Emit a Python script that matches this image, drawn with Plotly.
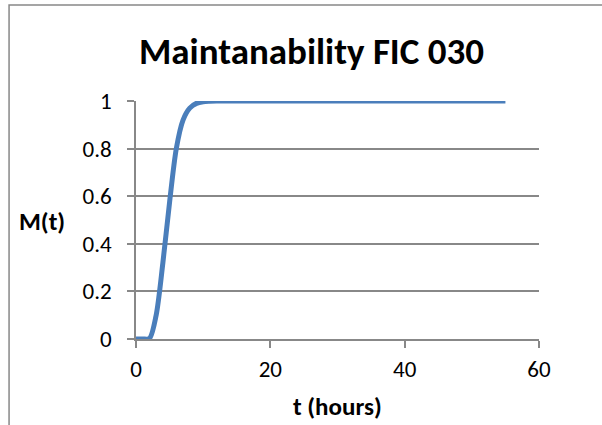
import plotly.graph_objects as go

t_hours = [0, 1, 2, 3, 4, 5, 6, 7, 8, 9, 10, 11, 12, 13, 14, 15, 16, 17, 18, 19,
           20, 21, 22, 23, 24, 25, 26, 27, 28, 29, 30, 31, 32, 33, 34, 35, 36, 37, 38, 39,
           40, 41, 42, 43, 44, 45, 46, 47, 48, 49, 50, 51, 52, 53, 54, 55]
m_values = [0.0, 0.0, 0.002, 0.10, 0.32, 0.575, 0.80, 0.92, 0.97, 0.99, 0.997, 0.999, 1.0, 1.0, 1.0, 1.0, 1.0, 1.0, 1.0, 1.0,
            1.0, 1.0, 1.0, 1.0, 1.0, 1.0, 1.0, 1.0, 1.0, 1.0, 1.0, 1.0, 1.0, 1.0, 1.0, 1.0, 1.0, 1.0, 1.0, 1.0,
            1.0, 1.0, 1.0, 1.0, 1.0, 1.0, 1.0, 1.0, 1.0, 1.0, 1.0, 1.0, 1.0, 1.0, 1.0, 1.0]
x_ticks = [0, 20, 40, 60]
y_ticks = [0, 0.2, 0.4, 0.6, 0.8, 1]
y_tick_labels = ["0", "0.2", "0.4", "0.6", "0.8", "1"]

FONT = "Carlito, Calibri, Lato, sans-serif"
GRAY = "#888888"

fig = go.Figure()
fig.add_trace(go.Scatter(
    x=t_hours, y=m_values, mode="lines",
    line=dict(color="#4a7ebb", width=5, shape="spline", smoothing=0.8),
    showlegend=False, cliponaxis=False,
))

fig.update_layout(
    width=602, height=425,
    margin=dict(l=136, r=63, t=101, b=86),
    paper_bgcolor="white", plot_bgcolor="white",
    font=dict(family=FONT, color="black"),
    xaxis=dict(range=[0, 60], tickvals=x_ticks, showgrid=False,
               showline=True, linecolor=GRAY, linewidth=1.5,
               ticks="outside", ticklen=7, tickcolor=GRAY, tickwidth=1.5,
               tickfont=dict(size=23, family=FONT), zeroline=False,
               ticklabelstandoff=2),
    yaxis=dict(range=[0, 1], tickvals=y_ticks, ticktext=y_tick_labels,
               showgrid=True, gridcolor=GRAY, gridwidth=1.5,
               showline=True, linecolor=GRAY, linewidth=1.5,
               ticks="outside", ticklen=7, tickcolor=GRAY, tickwidth=1.5,
               tickfont=dict(size=23, family=FONT), zeroline=False,
               ticklabelstandoff=11),
    shapes=[dict(type="rect", xref="paper", yref="paper",
                 x0=-0.315, x1=2, y0=-2, y1=1.403,
                 line=dict(color=GRAY, width=1.5), layer="below")],
    annotations=[
        dict(text="<b>Maintanability FIC 030</b>", xref="paper", yref="paper",
             x=(311 - 136) / 403, y=(339 - 51) / 238, xanchor="center", yanchor="middle",
             showarrow=False, font=dict(size=37, family=FONT)),
        dict(text="<b>M(t)</b>", xref="paper", yref="paper",
             x=(42 - 136) / 403, y=(339 - 221) / 238, xanchor="center", yanchor="middle",
             showarrow=False, font=dict(size=25, family=FONT)),
        dict(text="<b>t (hours)</b>", xref="paper", yref="paper",
             x=(337 - 136) / 403, y=(339 - 406) / 238, xanchor="center", yanchor="middle",
             showarrow=False, font=dict(size=25, family=FONT)),
    ],
)

fig.write_html("out.html")
